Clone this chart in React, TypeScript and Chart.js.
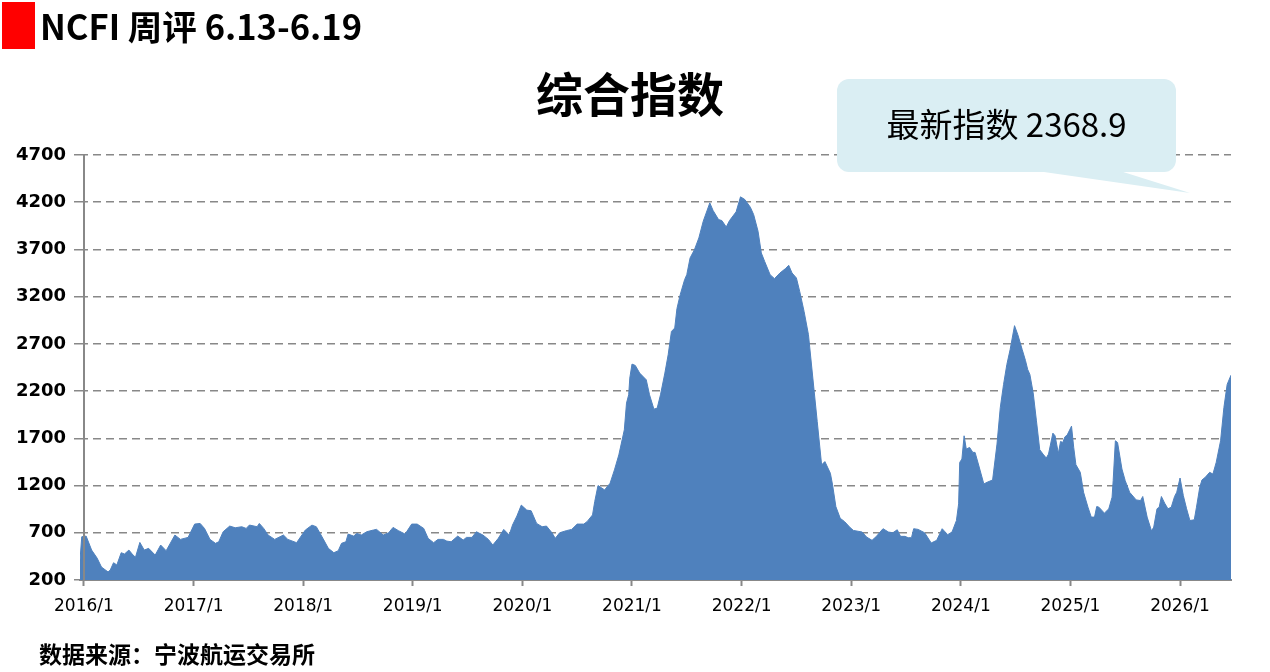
import React, { useEffect, useRef } from "react";
import { Chart, registerables } from "chart.js";

Chart.register(...registerables);

const TITLE = "综合指数";
const HEADER = "NCFI 周评 6.13-6.19";
const SOURCE = "数据来源：宁波航运交易所";
const CALLOUT = "最新指数 2368.9";

// decimal-year positions of the sampled points
const dates: number[] = [
  2015.964, 2015.98, 2016.02, 2016.07, 2016.12, 2016.16, 2016.22, 2016.24, 2016.27, 2016.30,
  2016.34, 2016.37, 2016.41, 2016.44, 2016.47, 2016.51, 2016.55, 2016.59, 2016.65, 2016.70,
  2016.75, 2016.83, 2016.88, 2016.95, 2017.01, 2017.06, 2017.10, 2017.15, 2017.20, 2017.23,
  2017.27, 2017.33, 2017.38, 2017.44, 2017.48, 2017.51, 2017.58, 2017.60, 2017.64, 2017.68,
  2017.74, 2017.82, 2017.86, 2017.94, 2018.02, 2018.08, 2018.12, 2018.18, 2018.23, 2018.28,
  2018.32, 2018.35, 2018.39, 2018.41, 2018.46, 2018.49, 2018.53, 2018.58, 2018.64, 2018.67,
  2018.73, 2018.78, 2018.82, 2018.87, 2018.93, 2018.99, 2019.04, 2019.10, 2019.14, 2019.19,
  2019.23, 2019.28, 2019.31, 2019.35, 2019.41, 2019.46, 2019.49, 2019.54, 2019.58, 2019.64,
  2019.69, 2019.73, 2019.78, 2019.83, 2019.88, 2019.91, 2019.95, 2019.99, 2020.04, 2020.08,
  2020.13, 2020.18, 2020.22, 2020.27, 2020.30, 2020.34, 2020.40, 2020.45, 2020.50, 2020.56,
  2020.59, 2020.64, 2020.66, 2020.69, 2020.75, 2020.80, 2020.84, 2020.88, 2020.92, 2020.93,
  2020.95, 2020.97, 2020.98, 2021.00, 2021.03, 2021.07, 2021.13, 2021.16, 2021.20, 2021.23,
  2021.26, 2021.30, 2021.33, 2021.36, 2021.39, 2021.41, 2021.44, 2021.48, 2021.50, 2021.53,
  2021.57, 2021.61, 2021.65, 2021.71, 2021.74, 2021.79, 2021.82, 2021.86, 2021.89, 2021.95,
  2021.99, 2022.03, 2022.08, 2022.11, 2022.15, 2022.18, 2022.21, 2022.26, 2022.30, 2022.35,
  2022.40, 2022.43, 2022.46, 2022.50, 2022.53, 2022.57, 2022.61, 2022.65, 2022.69, 2022.73,
  2022.76, 2022.81, 2022.83, 2022.86, 2022.90, 2022.94, 2022.99, 2023.02, 2023.10, 2023.14,
  2023.19, 2023.23, 2023.29, 2023.34, 2023.38, 2023.42, 2023.45, 2023.49, 2023.52, 2023.55,
  2023.57, 2023.61, 2023.67, 2023.73, 2023.78, 2023.83, 2023.88, 2023.92, 2023.96, 2023.98,
  2023.99, 2024.01, 2024.03, 2024.05, 2024.08, 2024.11, 2024.13, 2024.16, 2024.21, 2024.24,
  2024.29, 2024.33, 2024.36, 2024.39, 2024.42, 2024.45, 2024.49, 2024.52, 2024.56, 2024.59,
  2024.61, 2024.63, 2024.66, 2024.69, 2024.72, 2024.75, 2024.78, 2024.80, 2024.84, 2024.86,
  2024.89, 2024.91, 2024.93, 2024.95, 2024.97, 2025.01, 2025.03, 2025.05, 2025.09, 2025.12,
  2025.16, 2025.19, 2025.22, 2025.24, 2025.26, 2025.31, 2025.35, 2025.38, 2025.39, 2025.41,
  2025.43, 2025.47, 2025.50, 2025.54, 2025.60, 2025.64, 2025.66, 2025.70, 2025.74, 2025.76,
  2025.79, 2025.81, 2025.83, 2025.86, 2025.89, 2025.92, 2025.95, 2025.97, 2026.00, 2026.03,
  2026.06, 2026.09, 2026.13, 2026.15, 2026.18, 2026.20, 2026.23, 2026.27, 2026.30, 2026.33,
  2026.37, 2026.40, 2026.43, 2026.465,
];

// NCFI composite index values
const ncfi: number[] = [
  411, 658, 665, 517, 432, 337, 285, 306, 383, 359,
  489, 475, 517, 475, 440, 598, 517, 535, 464, 570,
  510, 676, 630, 651, 792, 799, 746, 630, 588, 605,
  711, 771, 753, 764, 746, 782, 764, 799, 746, 676,
  630, 676, 630, 595, 729, 781, 764, 641, 535, 489,
  510, 588, 605, 686, 665, 693, 676, 711, 729, 736,
  676, 700, 757, 722, 686, 792, 792, 746, 641, 595,
  630, 630, 612, 605, 665, 623, 651, 651, 711, 676,
  630, 570, 641, 736, 676, 782, 877, 993, 940, 933,
  799, 764, 771, 700, 641, 700, 722, 736, 792, 792,
  818, 889, 1030, 1200, 1154, 1224, 1366, 1525, 1737, 1790,
  2073, 2161, 2338, 2486, 2472, 2391, 2320, 2161, 2009, 2020,
  2161, 2391, 2585, 2832, 2868, 3073, 3221, 3380, 3433, 3610,
  3698, 3822, 3999, 4193, 4112, 4016, 4006, 3938, 4006, 4098,
  4257, 4228, 4147, 4069, 3893, 3663, 3574, 3433, 3391, 3451,
  3497, 3532, 3451, 3398, 3256, 3044, 2797, 2338, 1878, 1419,
  1454, 1330, 1207, 977, 853, 818, 755, 725, 708, 655,
  620, 662, 743, 708, 700, 732, 662, 662, 648, 648,
  743, 736, 700, 592, 620, 743, 680, 708, 830, 1006,
  1445, 1481, 1727, 1586, 1604, 1551, 1551, 1428, 1217, 1235,
  1259, 1639, 2025, 2271, 2482, 2640, 2893, 2798, 2640, 2524,
  2429, 2377, 2183, 1885, 1580, 1533, 1491, 1533, 1755, 1727,
  1540, 1667, 1656, 1716, 1734, 1829, 1604, 1421, 1340, 1129,
  971, 866, 866, 978, 971, 908, 954, 1077, 1252, 1674,
  1656, 1375, 1252, 1129, 1048, 1041, 1084, 866, 718, 760,
  954, 971, 1084, 1013, 954, 971, 1084, 1129, 1280, 1094,
  954, 830, 837, 971, 1182, 1259, 1287, 1340, 1322, 1445,
  1674, 2025, 2271, 2369,
];

const yearTicks: number[] = [2016, 2017, 2018, 2019, 2020, 2021, 2022, 2023, 2024, 2025, 2026];
const yTicks: number[] = [200, 700, 1200, 1700, 2200, 2700, 3200, 3700, 4200, 4700];

const yAxisLinePlugin = {
  id: "yAxisLine",
  afterDatasetsDraw(chart: any) {
    const { ctx, chartArea, scales } = chart;
    const x = Math.round(scales.x.getPixelForValue(yearTicks[0]));
    ctx.save();
    ctx.strokeStyle = "#888888";
    ctx.lineWidth = 2;
    ctx.beginPath();
    ctx.moveTo(x, chartArea.top);
    ctx.lineTo(x, chartArea.bottom);
    ctx.stroke();
    ctx.restore();
  },
};

export default function App() {
  const canvasRef = useRef<HTMLCanvasElement | null>(null);

  useEffect(() => {
    const canvas = canvasRef.current;
    if (!canvas) return;
    const points = dates.map((d, i) => ({ x: d, y: ncfi[i] }));
    const chart = new Chart(canvas, {
      type: "line",
      data: {
        datasets: [
          {
            data: points,
            fill: "start",
            backgroundColor: "#4f81bd",
            borderColor: "#4f81bd",
            borderWidth: 1,
            pointRadius: 0,
            tension: 0,
          },
        ],
      },
      options: {
        animation: false,
        responsive: false,
        devicePixelRatio: 1,
        layout: { padding: { left: 0, top: 155, right: 39, bottom: 0 } },
        plugins: { legend: { display: false }, tooltip: { enabled: false }, title: { display: false } },
        scales: {
          x: {
            type: "linear",
            min: dates[0],
            max: dates[dates.length - 1],
            afterBuildTicks: (scale: any) => {
              scale.ticks = yearTicks.map((v) => ({ value: v }));
            },
            afterFit: (scale: any) => {
              scale.height = 92;
            },
            ticks: {
              autoSkip: false,
              maxRotation: 0,
              padding: 10,
              color: "#000000",
              font: { family: "DejaVu Sans", size: 17 },
              callback: (v: any) => `${v}/1`,
            },
            grid: {
              drawOnChartArea: false,
              drawTicks: true,
              tickLength: 6,
              tickColor: "#888888",
              tickWidth: 2,
            },
            border: { display: true, color: "#888888", width: 2 },
          },
          y: {
            min: yTicks[0],
            max: yTicks[yTicks.length - 1],
            afterBuildTicks: (scale: any) => {
              scale.ticks = yTicks.map((v) => ({ value: v }));
            },
            afterFit: (scale: any) => {
              scale.width = 80;
            },
            ticks: {
              padding: 8,
              color: "#000000",
              font: { family: "DejaVu Sans", size: 18, weight: "bold" },
              callback: (v: any) => String(v),
            },
            grid: {
              color: "#888888",
              lineWidth: 1.5,
              tickLength: 6,
              tickBorderDash: [8, 5],
            },
            border: { display: false, dash: [8, 5] },
          },
        },
      },
      plugins: [yAxisLinePlugin],
    } as any);
    return () => chart.destroy();
  }, []);

  return (
    <div
      style={{
        position: "fixed",
        left: 0,
        top: 0,
        width: 1270,
        height: 672,
        background: "#ffffff",
        overflow: "hidden",
        fontFamily: "'Noto Sans CJK SC', 'Noto Sans', sans-serif",
      }}
    >
      <canvas ref={canvasRef} width={1270} height={672} style={{ position: "absolute", left: 0, top: 0 }} />
      <div style={{ position: "absolute", left: 2, top: 2, width: 33, height: 47, background: "#ff0000" }} />
      <div
        style={{
          position: "absolute",
          left: 40,
          top: 0,
          height: 50,
          lineHeight: "50px",
          fontSize: 34.5,
          fontWeight: 700,
          color: "#000",
          whiteSpace: "nowrap",
        }}
      >
        {HEADER}
      </div>
      <div
        style={{
          position: "absolute",
          left: 0,
          width: 1260,
          top: 64,
          height: 56,
          lineHeight: "56px",
          textAlign: "center",
          fontSize: 47,
          fontWeight: 700,
          color: "#000",
        }}
      >
        {TITLE}
      </div>
      <svg style={{ position: "absolute", left: 0, top: 0 }} width={1270} height={672}>
        <rect x={837} y={79} width={339} height={93} rx={12} ry={12} fill="#daeef3" />
        <polygon points="1037,171 1120,171 1190,193" fill="#daeef3" />
      </svg>
      <div
        style={{
          position: "absolute",
          left: 837,
          width: 339,
          top: 100,
          height: 46,
          lineHeight: "46px",
          textAlign: "center",
          fontSize: 33,
          color: "#000",
          whiteSpace: "nowrap",
        }}
      >
        {CALLOUT}
      </div>
      <div
        style={{
          position: "absolute",
          left: 39,
          top: 638,
          height: 30,
          lineHeight: "30px",
          fontSize: 23,
          fontWeight: 700,
          color: "#000",
          whiteSpace: "nowrap",
        }}
      >
        {SOURCE}
      </div>
    </div>
  );
}
